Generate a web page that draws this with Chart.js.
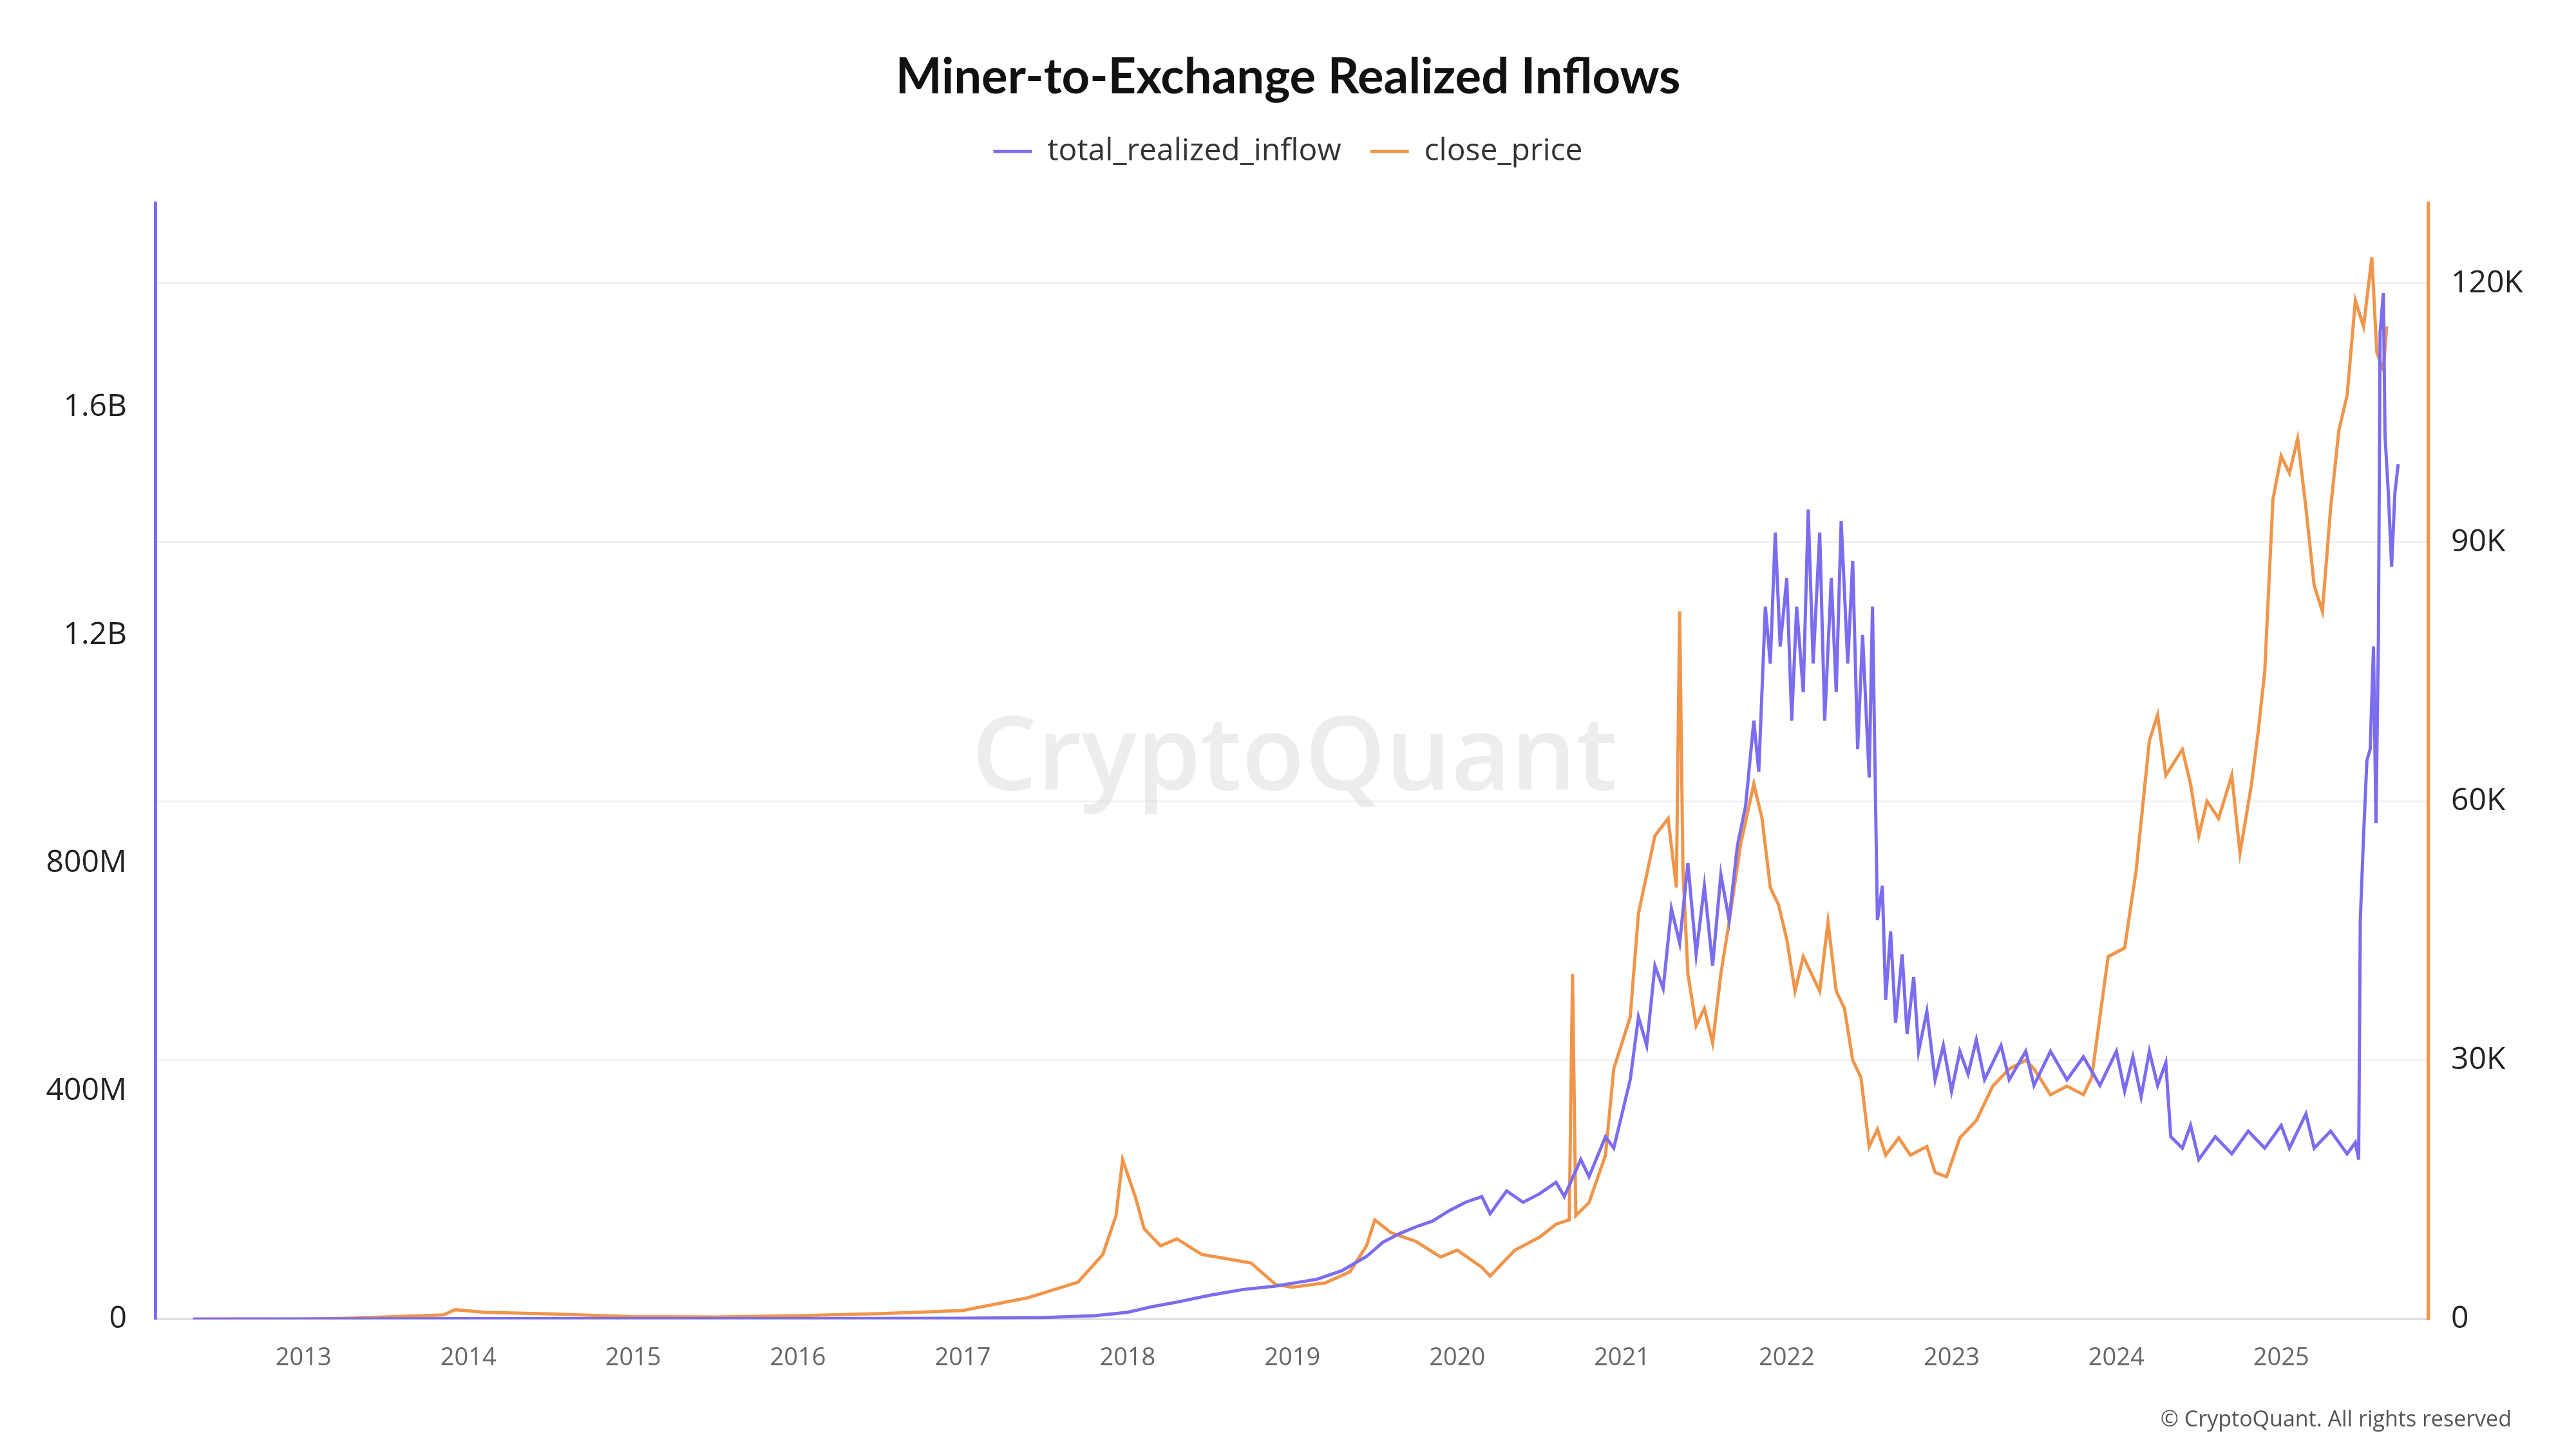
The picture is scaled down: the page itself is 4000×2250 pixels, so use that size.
<!DOCTYPE html>
<html>
<head>
<meta charset="utf-8">
<script src="https://cdn.jsdelivr.net/npm/chart.js@4"></script>
<style>
  body { margin:0; background:#fff; }
  #wrap { position:relative; width:4000px; height:2250px; }
</style>
</head>
<body>
<div id="wrap"><canvas id="chart1" width="4000" height="2250"></canvas></div>
<script>
// decimal years + millions of USD
const inflowDates = [2012.33,2013.0,2014.0,2015.0,2016.0,2017.0,2017.5,2017.8,2018.0,2018.15,2018.3,2018.5,2018.7,2018.9,2019.0,2019.15,2019.3,2019.45,2019.55,2019.65,2019.75,2019.85,2019.95,2020.05,2020.15,2020.2,2020.3,2020.4,2020.5,2020.6,2020.65,2020.75,2020.8,2020.9,2020.95,2021.0,2021.05,2021.1,2021.15,2021.2,2021.25,2021.3,2021.35,2021.4,2021.45,2021.5,2021.55,2021.6,2021.65,2021.7,2021.75,2021.8,2021.83,2021.87,2021.9,2021.93,2021.96,2022.0,2022.03,2022.06,2022.1,2022.13,2022.16,2022.2,2022.23,2022.27,2022.3,2022.33,2022.37,2022.4,2022.43,2022.46,2022.5,2022.52,2022.55,2022.58,2022.6,2022.63,2022.66,2022.7,2022.73,2022.77,2022.8,2022.85,2022.9,2022.95,2023.0,2023.05,2023.1,2023.15,2023.2,2023.3,2023.35,2023.45,2023.5,2023.6,2023.7,2023.8,2023.9,2024.0,2024.05,2024.1,2024.15,2024.2,2024.25,2024.3,2024.33,2024.4,2024.45,2024.5,2024.6,2024.7,2024.8,2024.9,2025.0,2025.05,2025.15,2025.2,2025.3,2025.4,2025.45,2025.47,2025.48,2025.5,2025.52,2025.54,2025.56,2025.575,2025.59,2025.6,2025.62,2025.63,2025.65,2025.67,2025.69,2025.71];
const inflowValues = [0.3,0.5,1,1,1,1.5,3,6,12,22,30,42,52,58,63,70,85,110,135,150,162,172,190,205,215,185,225,205,220,240,215,280,250,320,300,360,420,530,480,620,580,720,660,800,640,760,620,780,700,830,900,1050,960,1250,1150,1380,1180,1300,1050,1250,1100,1420,1150,1380,1050,1300,1100,1400,1150,1330,1000,1200,950,1250,700,760,560,680,520,640,500,600,470,540,420,480,400,470,430,490,420,480,420,470,410,470,420,460,410,470,400,460,390,470,410,450,320,300,340,280,320,290,330,300,340,300,360,300,330,290,310,280,700,850,980,1000,1180,870,1200,1730,1800,1550,1450,1320,1450,1500];

// decimal years + thousands of USD
const priceDates = [2012.33,2013.0,2013.3,2013.85,2013.92,2014.1,2014.5,2015.0,2015.5,2016.0,2016.5,2017.0,2017.4,2017.7,2017.85,2017.93,2017.97,2018.05,2018.1,2018.2,2018.3,2018.45,2018.6,2018.75,2018.9,2019.0,2019.2,2019.35,2019.45,2019.5,2019.6,2019.75,2019.9,2020.0,2020.15,2020.2,2020.35,2020.5,2020.6,2020.68,2020.7,2020.72,2020.8,2020.9,2020.95,2021.05,2021.1,2021.2,2021.28,2021.33,2021.35,2021.37,2021.4,2021.45,2021.5,2021.55,2021.6,2021.65,2021.72,2021.8,2021.85,2021.9,2021.95,2022.0,2022.05,2022.1,2022.2,2022.25,2022.3,2022.35,2022.4,2022.45,2022.5,2022.55,2022.6,2022.68,2022.75,2022.85,2022.9,2022.97,2023.05,2023.15,2023.25,2023.35,2023.45,2023.5,2023.6,2023.7,2023.8,2023.85,2023.95,2024.05,2024.12,2024.2,2024.25,2024.3,2024.4,2024.45,2024.5,2024.55,2024.62,2024.7,2024.75,2024.82,2024.86,2024.9,2024.95,2025.0,2025.05,2025.1,2025.15,2025.2,2025.25,2025.3,2025.35,2025.4,2025.45,2025.5,2025.55,2025.58,2025.62,2025.64,2025.67,2025.7];
const priceValues = [0.005,0.013,0.12,0.5,1.1,0.8,0.6,0.3,0.25,0.4,0.65,1.0,2.5,4.3,7.5,12,18.5,14,10.5,8.5,9.3,7.5,7.0,6.5,4.0,3.7,4.2,5.5,8.5,11.5,10.0,9.0,7.2,8.0,6.0,5.0,8.0,9.5,11.0,11.5,40,12,13.5,19,29,35,47,56,58,50,82,52,40,34,36,32,40,46,55,62,58,50,48,44,38,42,38,46,38,36,30,28,20,22,19,21,19,20,17,16.5,21,23,27,29,30,29,26,27,26,28,42,43,52,67,70,63,66,62,56,60,58,63,54,62,68,75,95,100,98,102,94,85,82,94,103,107,118,115,123,112,110,115];

const years = [2013,2014,2015,2016,2017,2018,2019,2020,2021,2022,2023,2024,2025];
const leftTicks = [0, 400e6, 800e6, 1.2e9, 1.6e9];
const rightTicks = [0, 30000, 60000, 90000, 120000];

const PURPLE = '#7b6cf0';
const ORANGE = '#f0954a';

function fmtLeft(v) {
  if (v === 0) return '0';
  if (v >= 1e9) return (v / 1e9) + 'B';
  return (v / 1e6) + 'M';
}
function fmtRight(v) {
  return v === 0 ? '0' : (v / 1000) + 'K';
}

const watermark = {
  id: 'watermark',
  afterInit(chart) {
    // leave a gap between legend and plot
    const lg = chart.legend;
    const fit = lg.fit;
    lg.fit = function () { fit.call(this); this.height += 46; };
  },
  beforeDatasetsDraw(chart) {
    const c = chart.ctx;
    c.save();
    c.fillStyle = 'rgba(215,215,220,0.45)';
    c.font = '600 160px "Open Sans", sans-serif';
    c.textAlign = 'center';
    c.textBaseline = 'middle';
    c.fillText('CryptoQuant', 2010, 1180);
    c.restore();
  },
  afterDraw(chart) {
    const c = chart.ctx;
    c.save();
    c.fillStyle = '#555';
    c.font = '34px "Open Sans", sans-serif';
    c.textAlign = 'right';
    c.fillText('© CryptoQuant. All rights reserved', 3900, 2205);
    c.restore();
  }
};

new Chart('chart1', {
  type: 'line',
  data: {
    datasets: [
      {
        label: 'total_realized_inflow',
        data: inflowDates.map((d, i) => ({ x: d, y: inflowValues[i] * 1e6 })),
        borderColor: PURPLE,
        backgroundColor: PURPLE,
        borderWidth: 5,
        pointRadius: 0,
        yAxisID: 'y'
      },
      {
        label: 'close_price',
        data: priceDates.map((d, i) => ({ x: d, y: priceValues[i] * 1000 })),
        borderColor: ORANGE,
        backgroundColor: ORANGE,
        borderWidth: 5,
        pointRadius: 0,
        yAxisID: 'y1'
      }
    ]
  },
  plugins: [watermark],
  options: {
    responsive: false,
    animation: false,
    devicePixelRatio: 1,
    layout: { padding: { top: 75, bottom: 88, left: 0, right: 0 } },
    plugins: {
      title: {
        display: true,
        text: 'Miner-to-Exchange Realized Inflows',
        color: '#111',
        font: { size: 76, weight: 'bold', family: 'Lato, "Open Sans", sans-serif' },
        padding: { top: 0, bottom: 0 }
      },
      legend: {
        display: true,
        labels: {
          color: '#333',
          font: { size: 48, family: '"Open Sans", sans-serif' },
          boxWidth: 60, boxHeight: 0, padding: 45,
          generateLabels(chart) {
            return chart.data.datasets.map((ds, i) => ({
              text: ds.label, strokeStyle: ds.borderColor, fillStyle: ds.borderColor,
              lineWidth: 5, datasetIndex: i, fontColor: '#333'
            }));
          }
        }
      },
      tooltip: { enabled: false }
    },
    scales: {
      x: {
        type: 'linear',
        min: 2012.10,
        max: 2025.89,
        afterBuildTicks(axis) { axis.ticks = years.map(v => ({ value: v })); },
        ticks: {
          color: '#666',
          font: { size: 38, family: '"Open Sans", sans-serif' },
          callback: v => String(v),
          padding: 30
        },
        grid: { display: false },
        border: { color: '#ddd', width: 3 }
      },
      y: {
        position: 'left',
        min: 0,
        max: 1.958e9,
        afterBuildTicks(axis) { axis.ticks = leftTicks.map(v => ({ value: v })); },
        afterFit(axis) { axis.width = 241; },
        ticks: {
          color: '#222',
          font: { size: 48, family: '"Open Sans", sans-serif' },
          callback: fmtLeft,
          padding: 36
        },
        grid: { display: false },
        border: { color: PURPLE, width: 5 }
      },
      y1: {
        position: 'right',
        min: 0,
        max: 129300,
        afterBuildTicks(axis) { axis.ticks = rightTicks.map(v => ({ value: v })); },
        afterFit(axis) { axis.width = 230; },
        ticks: {
          color: '#222',
          font: { size: 48, family: '"Open Sans", sans-serif' },
          callback: fmtRight,
          padding: 36
        },
        grid: { color: '#f1f1f1', lineWidth: 3, drawTicks: false },
        border: { color: ORANGE, width: 5 }
      }
    }
  }
});
</script>
</body>
</html>
